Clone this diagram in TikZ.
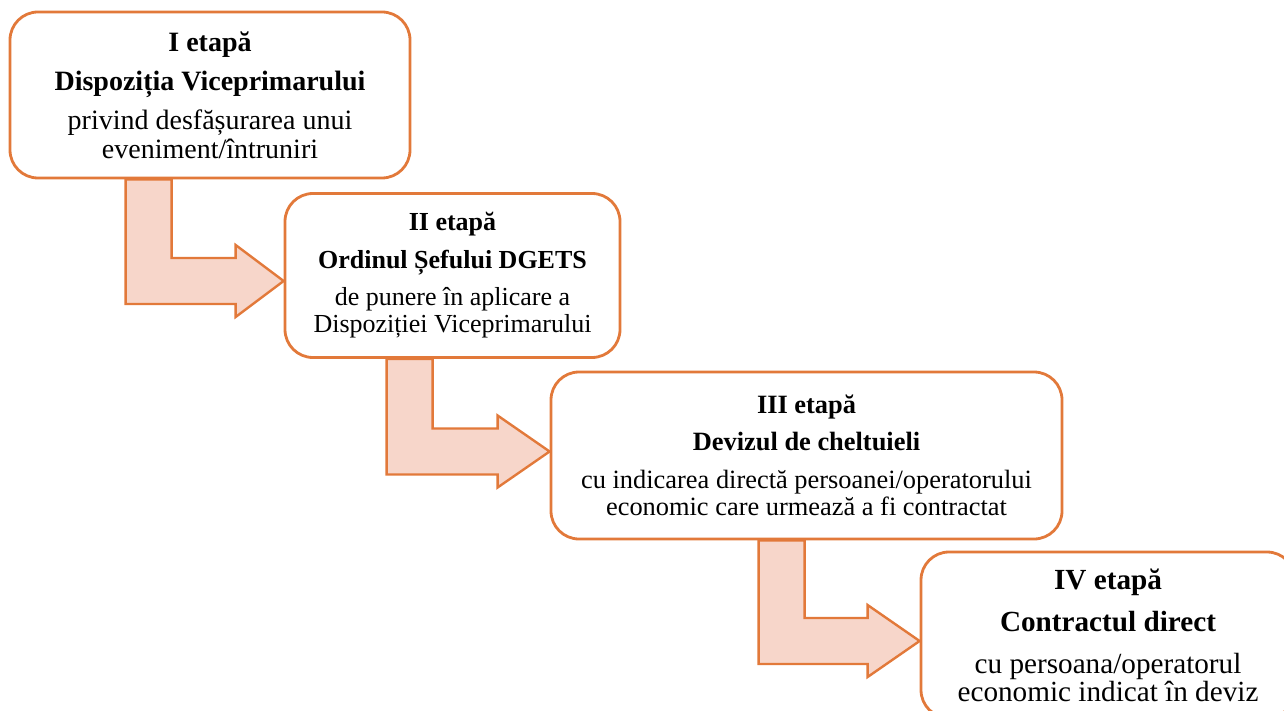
\documentclass[tikz,border=0pt]{standalone}
\usepackage{fontspec}
\setmainfont{Liberation Serif}
\usepackage{xcolor}
\definecolor{stageorange}{HTML}{E2793A}
\definecolor{flowpeach}{HTML}{F7D6CA}
\usetikzlibrary{calc,backgrounds}

\begin{document}
\begin{tikzpicture}[
        x=0.5pt, y=-0.5pt,
        stage/.style={draw=stageorange, line width=1.4pt, fill=white, rounded corners=14pt, align=center, inner sep=0pt},
        flow/.style={draw=stageorange, line width=1.2pt, fill=flowpeach, line join=miter},
    ]
    \useasboundingbox (0,0) rectangle (1284,711);

    % === Stage boxes ===
    \node[stage, minimum width=200pt, minimum height=83pt, font=\fontsize{14}{14.5}\selectfont] (st1) at (210,95) {
        \textbf{I etapă}\\[5pt]
        \textbf{Dispoziția Viceprimarului}\\[5pt]
        privind desfășurarea unui\\
        eveniment/întruniri
    };

    \node[stage, minimum width=167.5pt, minimum height=82pt, font=\fontsize{13}{13.5}\selectfont] (st2) at (452.5,275.5) {
        \textbf{II etapă}\\[5.5pt]
        \textbf{Ordinul Șefului DGETS}\\[5pt]
        de punere în aplicare a\\
        Dispoziției Viceprimarului
    };

    \node[stage, minimum width=255.5pt, minimum height=83.5pt, font=\fontsize{13.2}{13.5}\selectfont] (st3) at (806.5,455.5) {
        \textbf{III etapă}\\[5pt]
        \textbf{Devizul de cheltuieli}\\[5.5pt]
        cu indicarea directă persoanei/operatorului\\
        economic care urmează a fi contractat
    };

    \node[stage, minimum width=187pt, minimum height=83pt, font=\fontsize{14.6}{14}\selectfont] (st4) at (1108,635) {
        \textbf{IV etapă}\\[7pt]
        \textbf{Contractul direct}\\[7pt]
        cu persoana/operatorul\\
        economic indicat în deviz
    };

    % === Bent arrows between stages ===
    \coordinate (t1) at ([shift={(0,5.5)}]st2.west);
    \coordinate (t2) at ([shift={(0,-4)}]st3.west);
    \coordinate (t3) at ([shift={(0,6)}]st4.west);

    \begin{scope}[on background layer]
    \draw[flow] ([shift={(117,0)}]st1.south west) |- ([shift={(-48,23)}]t1) -- ++(0,13) -- (t1)
        -- ++(-48,-36) -- ++(0,13) -| ([shift={(163,0)}]st1.south west) -- cycle;
    \draw[flow] ([shift={(103,0)}]st2.south west) |- ([shift={(-52,23)}]t2) -- ++(0,13) -- (t2)
        -- ++(-52,-36) -- ++(0,13) -| ([shift={(149,0)}]st2.south west) -- cycle;
    \draw[flow] ([shift={(209,0)}]st3.south west) |- ([shift={(-52,23)}]t3) -- ++(0,13) -- (t3)
        -- ++(-52,-36) -- ++(0,13) -| ([shift={(255,0)}]st3.south west) -- cycle;
    \end{scope}

\end{tikzpicture}
\end{document}
